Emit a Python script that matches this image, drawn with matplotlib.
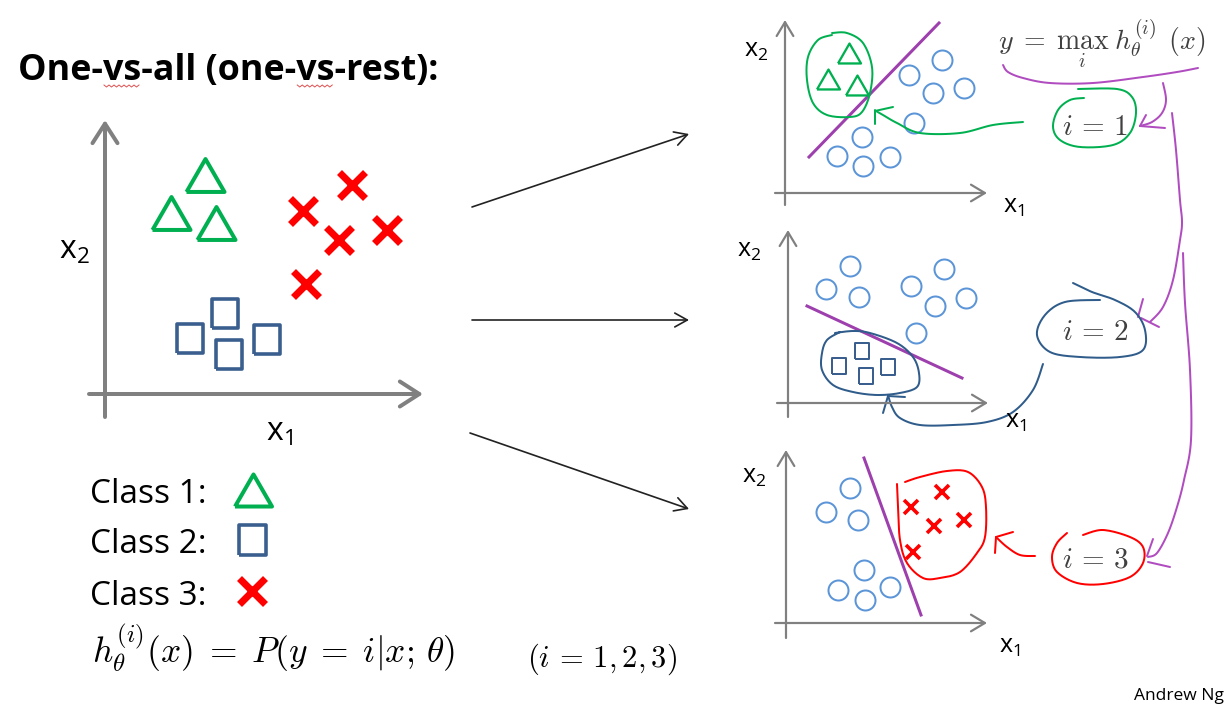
import numpy as np
import matplotlib
matplotlib.use("Agg")
import matplotlib.pyplot as plt
from matplotlib.transforms import Affine2D

plt.rcParams['font.family'] = ['Open Sans', 'DejaVu Sans']
plt.rcParams['mathtext.fontset'] = 'cm'

# ---------------- data (feature units, 1 unit = 10 px, origin at axis crossing) -------------
main_tri_x = [10.0, 6.6, 11.1]
main_tri_y = [21.9, 18.1, 17.1]
main_sq_x = [8.5, 12.0, 12.4, 16.2]
main_sq_y = [5.6, 8.1, 4.0, 5.5]
main_x_x = [24.7, 19.8, 23.4, 28.2, 20.1]
main_x_y = [20.9, 18.3, 15.4, 16.4, 11.0]

p1_tri_x = [6.4, 4.3, 7.2]
p1_tri_y = [14.0, 11.4, 10.8]
p1_circ_x = [15.7, 12.4, 14.8, 17.9, 12.9, 7.7, 5.2, 7.8, 10.5]
p1_circ_y = [13.3, 11.8, 10.0, 10.5, 7.0, 5.6, 3.7, 2.7, 3.6]
p1_bound_x = [2.4, 15.4]
p1_bound_y = [3.6, 17.0]

p2_circ_x = [6.2, 3.8, 7.1, 12.3, 15.6, 17.8, 14.7, 12.8]
p2_circ_y = [13.7, 11.4, 10.6, 11.7, 13.4, 10.5, 9.7, 7.0]
p2_sq_x = [7.4, 5.1, 7.8, 10.0]
p2_sq_y = [5.2, 3.7, 2.7, 3.6]
p2_bound_x = [1.9, 17.4]
p2_bound_y = [9.7, 2.5]

p3_circ_x = [6.4, 4.0, 7.2, 7.8, 5.2, 7.9, 10.4]
p3_circ_y = [13.5, 11.1, 10.3, 5.3, 3.3, 2.3, 3.6]
p3_x_x = [15.6, 12.5, 17.8, 14.8, 12.7]
p3_x_y = [13.1, 11.6, 10.3, 9.7, 7.1]
p3_bound_x = [7.8, 13.5]
p3_bound_y = [16.5, 0.8]

class_labels = ["Class 1:", "Class 2:", "Class 3:"]
title = "One-vs-all (one-vs-rest):"

# ---------------- styles -------------
GREEN = '#00b050'
DBLUE = '#3a5f8f'
RED = '#ff0000'
LBLUE = '#5b95d8'
PURPLE = '#9e3fae'
HPURPLE = '#b04cc0'
HBLUE = '#2f5c8a'
GRAY = '#808080'
PX = 0.72  # points per pixel at dpi 100

TRI = [(-0.5, -0.433), (0.5, -0.433), (0.0, 0.433), (-0.5, -0.433)]
SQR = [(-0.45, -0.5), (0.45, -0.5), (0.45, 0.5), (-0.45, 0.5), (-0.45, -0.5)]

fig = plt.figure(figsize=(12.26, 7.17), dpi=100)
ax = fig.add_axes([0, 0, 1, 1])
ax.set_xlim(0, 1226)
ax.set_ylim(717, 0)
ax.axis('off')


def panel(ox, oy):
    return Affine2D().scale(10, -10).translate(ox, oy) + ax.transData


def axis_arrows(tr, xr, yr, lw, hl, hw):
    st = f'->,head_length={hl},head_width={hw}'
    ax.annotate('', xy=(xr[1], 0), xytext=(xr[0], 0), xycoords=tr, textcoords=tr,
                arrowprops=dict(arrowstyle=st, lw=lw, color=GRAY, shrinkA=0, shrinkB=0,
                                mutation_scale=10))
    ax.annotate('', xy=(0, yr[1]), xytext=(0, yr[0]), xycoords=tr, textcoords=tr,
                arrowprops=dict(arrowstyle=st, lw=lw, color=GRAY, shrinkA=0, shrinkB=0,
                                mutation_scale=10))


def smooth(pts, n=12):
    p = np.asarray(pts, float)
    p = np.vstack([p[0], p, p[-1]])
    out = []
    for i in range(1, len(p) - 2):
        p0, p1, p2, p3 = p[i - 1], p[i], p[i + 1], p[i + 2]
        t = np.linspace(0, 1, n, endpoint=False)[:, None]
        out.append(0.5 * ((2 * p1) + (-p0 + p2) * t + (2 * p0 - 5 * p1 + 4 * p2 - p3) * t ** 2
                          + (-p0 + 3 * p1 - 3 * p2 + p3) * t ** 3))
    out.append(p[-2][None, :])
    return np.vstack(out)


def stroke(pts, color, lw=2.0):
    s = smooth(pts)
    ax.plot(s[:, 0], s[:, 1], color=color, lw=lw * PX, solid_capstyle='round',
            solid_joinstyle='round')


# ---------------- title -------------
TFS = 25.8
ax.text(18, 80, title, fontsize=TFS, fontweight='bold', va='baseline')
renderer = fig.canvas.get_renderer()


def text_width(s):
    t = ax.text(0, 0, s, fontsize=TFS, fontweight='bold')
    w = t.get_window_extent(renderer).width
    t.remove()
    return w


for a, b in [("One-", "One-vs"), ("One-vs-all (one-", "One-vs-all (one-vs")]:
    x0 = 18 + text_width(a) + 1
    x1 = 18 + text_width(b) - 1
    xs = np.arange(x0, x1, 2.5)
    ys = 86 + np.where(np.arange(len(xs)) % 2 == 0, -1.0, 1.0)
    ax.plot(xs, ys, color='#e05050', lw=0.7)

# ---------------- main plot -------------
tm = panel(105, 394)
axis_arrows(tm, (-1.6, 31.8), (-2.3, 27.4), 4 * PX, 1.4, 0.9)
ax.plot(main_tri_x, main_tri_y, ls='none', marker=TRI, ms=38 * PX, mfc='none', mec=GREEN,
        mew=4 * PX, transform=tm)
ax.plot(main_sq_x, main_sq_y, ls='none', marker=SQR, ms=29 * PX, mfc='none', mec=DBLUE,
        mew=3.6 * PX, transform=tm)
ax.plot(main_x_x, main_x_y, ls='none', marker='x', ms=26 * PX, mec=RED, mew=7 * PX, transform=tm)
ax.text(59, 259, r'$\mathregular{x_2}$', fontsize=23, va='baseline')
ax.text(266, 441, r'$\mathregular{x_1}$', fontsize=23, va='baseline')

# legend
for lab, yb in zip(class_labels, [503, 553, 605]):
    ax.text(90, yb, lab, fontsize=24, va='baseline')
ax.plot([253], [490], marker=TRI, ms=37 * PX, mfc='none', mec=GREEN, mew=4 * PX)
ax.plot([252], [540], marker=SQR, ms=30 * PX, mfc='none', mec=DBLUE, mew=3.6 * PX)
ax.plot([252], [591], marker='x', ms=27 * PX, mec=RED, mew=7 * PX)

ax.text(92, 663, r'$h_\theta^{(i)}(x)\;=\;P(y\;=\;i|x;\,\theta)$', fontsize=25.5,
        va='baseline')
ax.text(527, 667, r'$(i\,=\,1,2,3)$', fontsize=22, va='baseline')

# middle arrows
for (xa, ya), (xb, yb) in [((472, 207), (689, 134)), ((472, 320), (689, 320)),
                            ((470, 433), (689, 509))]:
    ax.annotate('', xy=(xb, yb), xytext=(xa, ya),
                arrowprops=dict(arrowstyle='->,head_length=0.9,head_width=0.5', lw=1.2,
                                color='#222222', shrinkA=0, shrinkB=0, mutation_scale=10))

# ---------------- panel 1 -------------
t1 = panel(785, 193)
axis_arrows(t1, (-1.0, 20.2), (-1.2, 17.3), 2.2 * PX, 1.0, 0.6)
ax.plot(p1_bound_x, p1_bound_y, color=PURPLE, lw=3 * PX, transform=t1)
ax.plot(p1_tri_x, p1_tri_y, ls='none', marker=TRI, ms=23 * PX, mfc='none', mec=GREEN,
        mew=2.3 * PX, transform=t1)
ax.plot(p1_circ_x, p1_circ_y, ls='none', marker='o', ms=20 * PX, mfc='none', mec=LBLUE,
        mew=2 * PX, transform=t1)
ax.text(744, 57, r'$\mathregular{x_2}$', fontsize=18, va='baseline')
ax.text(1003, 213, r'$\mathregular{x_1}$', fontsize=18, va='baseline')

# ---------------- panel 2 -------------
t2 = panel(788, 403)
axis_arrows(t2, (-1.1, 20.0), (-1.4, 17.3), 2.2 * PX, 1.0, 0.6)
ax.plot(p2_bound_x, p2_bound_y, color=PURPLE, lw=3 * PX, transform=t2)
ax.plot(p2_circ_x, p2_circ_y, ls='none', marker='o', ms=20 * PX, mfc='none', mec=LBLUE,
        mew=2 * PX, transform=t2)
ax.plot(p2_sq_x, p2_sq_y, ls='none', marker=SQR, ms=16 * PX, mfc='none', mec=DBLUE,
        mew=2 * PX, transform=t2)
ax.text(737, 257, r'$\mathregular{x_2}$', fontsize=18, va='baseline')
ax.text(1005, 428, r'$\mathregular{x_1}$', fontsize=18, va='baseline')

# ---------------- panel 3 -------------
t3 = panel(786, 623)
axis_arrows(t3, (-1.1, 20.1), (-1.5, 17.3), 2.2 * PX, 1.0, 0.6)
ax.plot(p3_bound_x, p3_bound_y, color=PURPLE, lw=3 * PX, transform=t3)
ax.plot(p3_circ_x, p3_circ_y, ls='none', marker='o', ms=20 * PX, mfc='none', mec=LBLUE,
        mew=2 * PX, transform=t3)
ax.plot(p3_x_x, p3_x_y, ls='none', marker='x', ms=14 * PX, mec=RED, mew=3.6 * PX, transform=t3)
ax.text(742, 483, r'$\mathregular{x_2}$', fontsize=18, va='baseline')
ax.text(999, 653, r'$\mathregular{x_1}$', fontsize=18, va='baseline')

# ---------------- formulas on the right -------------
FCOL = '#404040'
ax.text(998, 50, r'$y\;=\;\max_{i}\;h_\theta^{(i)}\;(x)$', fontsize=20, va='baseline', color=FCOL)
ax.text(1062, 135, r'$i\,=\,1$', fontsize=21, va='baseline', color=FCOL)
ax.text(1062, 340, r'$i\,=\,2$', fontsize=21, va='baseline', color=FCOL)
ax.text(1062, 568, r'$i\,=\,3$', fontsize=21, va='baseline', color=FCOL)
ax.text(1134, 700, "Andrew Ng", fontsize=12.5, va='baseline')

# ---------------- hand-drawn annotation strokes (figure pixels) -------------
green_loop = [(832, 33), (847, 33), (863, 43), (872, 67), (870, 93), (862, 112), (850, 117),
              (827, 115), (813, 103), (807, 80), (808, 57), (818, 40), (832, 35)]
green_arrow = [(1023, 122), (993, 125), (960, 133), (920, 133), (897, 123), (883, 115), (876, 111)]
green_head = [[(875, 124), (875, 110)], [(875, 111), (893, 107)]]
green_i1 = [(1078, 89), (1117, 89), (1132, 97), (1136, 113), (1130, 133), (1113, 145), (1080, 147),
            (1060, 140), (1053, 127), (1058, 110), (1070, 100), (1084, 98)]
stroke(green_loop, GREEN)
stroke(green_arrow, GREEN)
for seg in green_head:
    stroke(seg, GREEN)
stroke(green_i1, GREEN)

purple_brace = [(1003, 65), (1008, 72), (1023, 78), (1050, 83), (1093, 83), (1143, 77), (1177, 72),
                (1198, 68)]
purple_to1 = [(1163, 83), (1166, 100), (1162, 113), (1152, 122), (1140, 126)]
purple_head1 = [[(1146, 115), (1140, 126)], [(1140, 126), (1165, 128)]]
purple_long1 = [(1172, 113), (1176, 150), (1180, 200), (1182, 222), (1180, 240), (1173, 280),
                (1163, 307), (1150, 322)]
purple_head2 = [[(1143, 299), (1138, 317)], [(1141, 318), (1159, 327)]]
purple_long2 = [(1183, 253), (1185, 303), (1190, 370), (1191, 440), (1184, 480), (1177, 507),
                (1168, 533), (1157, 553), (1148, 557)]
purple_head3 = [[(1153, 539), (1147, 556)], [(1148, 562), (1170, 567)]]
stroke(purple_brace, HPURPLE)
stroke(purple_to1, HPURPLE)
stroke(purple_long1, HPURPLE)
stroke(purple_long2, HPURPLE)
for seg in purple_head1 + purple_head2 + purple_head3:
    stroke(seg, HPURPLE)

blue_loop = [(835, 333), (853, 331), (870, 333), (897, 343), (913, 357), (919, 373), (917, 387),
             (900, 393), (877, 395), (853, 392), (833, 385), (822, 370), (822, 353), (827, 340),
             (840, 332)]
blue_arrow = [(1043, 364), (1033, 390), (1013, 412), (987, 422), (953, 425), (920, 425), (900, 418),
              (892, 407), (888, 395)]
blue_head = [[(883, 413), (888, 396)], [(888, 396), (905, 397)]]
blue_i2 = [(1073, 283), (1092, 292), (1115, 300), (1135, 312), (1145, 330), (1143, 350),
           (1120, 357), (1080, 357), (1050, 352), (1037, 335), (1045, 315), (1065, 302), (1100, 300)]
stroke(blue_loop, HBLUE)
stroke(blue_arrow, HBLUE)
for seg in blue_head:
    stroke(seg, HBLUE)
stroke(blue_i2, HBLUE)

red_loop = [(897, 484), (898, 507), (900, 540), (907, 563), (923, 578), (940, 578), (960, 572),
            (977, 553), (985, 537), (986, 507), (982, 487), (968, 472), (947, 471), (920, 477),
            (905, 482)]
red_arrow = [(1035, 556), (1020, 555), (1007, 547), (997, 538)]
red_head = [[(1013, 532), (996, 537)], [(996, 537), (995, 553)]]
red_i3 = [(1067, 533), (1057, 543), (1052, 557), (1057, 572), (1077, 583), (1103, 584), (1130, 577),
          (1143, 563), (1143, 547), (1130, 537), (1103, 530), (1083, 535)]
stroke(red_loop, RED)
stroke(red_arrow, RED)
for seg in red_head:
    stroke(seg, RED)
stroke(red_i3, RED)

fig.savefig('out.png', dpi=100, facecolor='white')
